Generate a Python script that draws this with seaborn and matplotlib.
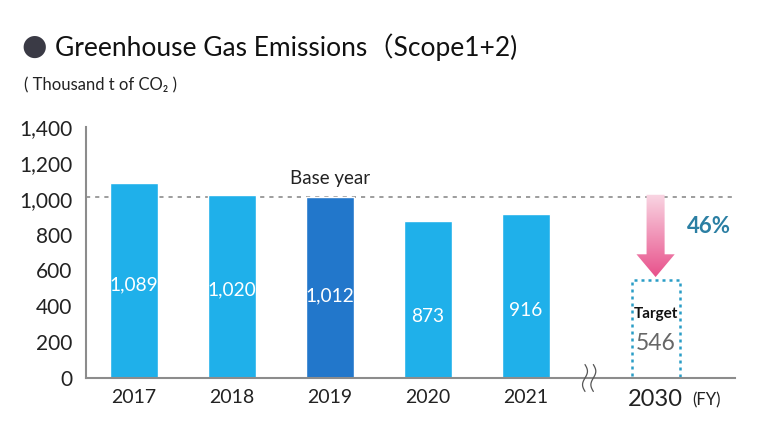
import numpy as np
import pandas as pd
import matplotlib
matplotlib.use("Agg")
import matplotlib.pyplot as plt
import seaborn as sns
from matplotlib.patches import Polygon
from matplotlib.colors import LinearSegmentedColormap

# ---- data ----
years = ["2017", "2018", "2019", "2020", "2021"]
emissions = [1089, 1020, 1012, 873, 916]
base_year = "2019"
target_year = "2030"
target_value = 546
reduction_pct = 46
y_ticks = [0, 200, 400, 600, 800, 1000, 1200, 1400]

# ---- style ----
sns.set_theme(style="white")
plt.rcParams["font.family"] = ["Lato", "DejaVu Sans"]

light_blue = "#1fb0ea"
dark_blue = "#2277cb"
grey_axis = "#8c8c8c"
palette = {y: (dark_blue if y == base_year else light_blue) for y in years}

fig = plt.figure(figsize=(7.58, 4.40), dpi=100)
ax = fig.add_axes([86 / 758, 1 - 378 / 440, (735 - 86) / 758, (378 - 127) / 440])

df = pd.DataFrame({"year": years, "value": emissions})
sns.barplot(data=df, x="year", y="value", hue="year", palette=palette,
            order=years, width=0.49, legend=False, ax=ax, saturation=1)

target_x = 5.32
bar_w = 0.49
# target dotted box
ax.bar(target_x, target_value, width=bar_w, facecolor="none",
       edgecolor="#2a9dc6", linestyle=(0, (1.2, 1.6)), linewidth=1.8)

# value labels inside bars
label_frac = [0.478, 0.48, 0.453, 0.39, 0.41]
for i, (v, f) in enumerate(zip(emissions, label_frac)):
    ax.text(i, v * f, f"{v:,}", ha="center", va="center", color="white",
            fontsize=13.8)

# base year dashed line
base_val = emissions[years.index(base_year)]
ax.axhline(base_val, color="#8c8c8c", linestyle=(0, (2.5, 3)), linewidth=1.2,
           zorder=0.5)
ax.text(years.index(base_year), base_val + 55, "Base year", ha="center",
        va="bottom", fontsize=13.5, color="#222222")

# target labels
ax.text(target_x, target_value * 0.65, "Target", ha="center", va="center",
        fontsize=11, fontweight="bold", color="#111111")
ax.text(target_x, target_value * 0.35, f"{target_value}", ha="center",
        va="center", fontsize=16.5, color="#666666")

# gradient arrow
sh = 0.092
hh = 0.195
top = base_val + 10
head_start = 690
tip = target_value + 17
poly = [(target_x - sh, top), (target_x + sh, top), (target_x + sh, head_start),
        (target_x + hh, head_start), (target_x, tip), (target_x - hh, head_start),
        (target_x - sh, head_start)]
patch = Polygon(poly, closed=True, facecolor="none", edgecolor="none")
ax.add_patch(patch)
cmap = LinearSegmentedColormap.from_list("pk", ["#e8518b", "#f9d6e3"])
grad = np.linspace(0, 1, 256).reshape(-1, 1)
im = ax.imshow(grad, cmap=cmap, extent=[target_x - hh, target_x + hh, tip, top],
               origin="lower", aspect="auto", zorder=3)
im.set_clip_path(patch)

ax.text(target_x + 0.32, 845, f"{reduction_pct}%", ha="left", va="center",
        fontsize=16, fontweight="bold", color="#2b7fa3")

# axis break marks
t = np.linspace(0, 1, 60)
for x0 in (4.60, 4.685):
    xs = x0 + 0.025 * np.sin(t * 2 * np.pi * 1.0)
    ys = 75 - 150 * t
    ax.plot(xs, ys, color="#555555", linewidth=0.9, clip_on=False, zorder=5)

# axes
ax.set_xlim(-0.49, 6.13)
ax.set_ylim(0, 1400)
ax.set_yticks(y_ticks)
ax.set_yticklabels([f"{v:,}" for v in y_ticks], fontsize=15, color="#222222")
ax.set_xticks(list(range(len(years))) + [target_x])
ax.set_xticklabels(years + [target_year], fontsize=14, color="#222222")
ax.get_xticklabels()[-1].set_fontsize(17)
ax.tick_params(axis="both", length=0)
ax.tick_params(axis="y", pad=10)
ax.tick_params(axis="x", pad=8)
ax.set_xlabel("")
ax.set_ylabel("")
for s in ("top", "right"):
    ax.spines[s].set_visible(False)
for s in ("left", "bottom"):
    ax.spines[s].set_color(grey_axis)
    ax.spines[s].set_linewidth(1.5)
ax.text(target_x + 0.52, -125, "(FY)", ha="center", va="center", fontsize=12,
        color="#222222", clip_on=False)

# titles
fig.text(21 / 758, 1 - 47 / 440, "●", fontsize=21, color="#3a3a45",
         va="center", ha="left", family=["DejaVu Sans"])
fig.text(55 / 758, 1 - 47 / 440, "Greenhouse Gas Emissions（Scope1+2)",
         fontsize=19, color="#111111", va="center", ha="left",
         family=["Lato", "Noto Sans CJK JP", "DejaVu Sans"])
fig.text(24 / 758, 1 - 85 / 440, "( Thousand t of CO₂ )", fontsize=12,
         color="#222222", va="center", ha="left",
         family=["Lato", "DejaVu Sans"])

fig.savefig("out.png", dpi=100)
